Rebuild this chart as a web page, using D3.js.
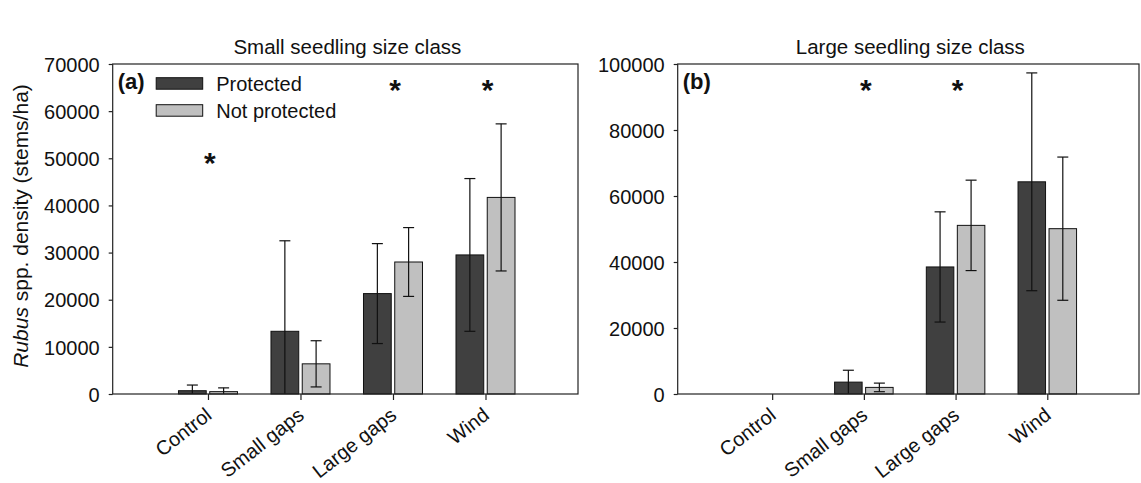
<!DOCTYPE html>
<html>
<head>
<meta charset="UTF-8">
<script src="https://d3js.org/d3.v7.min.js"></script>
<style>
body { margin: 0; background: #fff; }
text { font-family: "Liberation Sans", Arial, sans-serif; fill: #111; }
.yAxis path, .xAxis path { display: none; }
.yAxis line, .xAxis line { stroke: #222; stroke-width: 1.2; }
</style>
</head>
<body>
<script>
const categories = ["Control", "Small gaps", "Large gaps", "Wind"];
const seriesNames = ["Protected", "Not protected"];
const seriesFill = ["#404040", "#c0c0c0"];

// (a) small seedling size class
const smallProtected = [700, 13300, 21300, 29500];
const smallProtectedErr = [1200, 19200, 10600, 16200];
const smallNotProtected = [500, 6400, 28000, 41700];
const smallNotProtectedErr = [800, 4900, 7300, 15600];
const smallStars = [[0, 50300], [2, 65800], [3, 65800]];   // [category index, height]
const smallTicks = [0, 10000, 20000, 30000, 40000, 50000, 60000, 70000];

// (b) large seedling size class
const largeProtected = [0, 3600, 38500, 64300];
const largeProtectedErr = [0, 3600, 16700, 33000];
const largeNotProtected = [0, 2000, 51100, 50100];
const largeNotProtectedErr = [0, 1300, 13700, 21700];
const largeStars = [[1, 93900], [2, 93900]];
const largeTicks = [0, 20000, 40000, 60000, 80000, 100000];

const svg = d3.select("body").append("svg")
    .attr("width", 1141)
    .attr("height", 483);

function drawPanel(opt) {
    const w = opt.width, h = 330;
    const g = svg.append("g").attr("transform", `translate(${opt.left},64)`);
    const x = d3.scaleLinear().domain([-0.03, 5]).range([0, w]);
    const y = d3.scaleLinear().domain([0, opt.ticks[opt.ticks.length - 1]]).range([h, 0]);
    const bw = x(0.27) - x(-0.03);
    const gap = 3.5;

    // y axis
    const gY = g.append("g").classed("yAxis", true);
    d3.axisLeft(y).tickValues(opt.ticks).tickSize(4).tickPadding(9).tickFormat(d3.format("d"))(gY);
    gY.selectAll("text").attr("font-size", 20).attr("dy", "0.36em");

    // x axis
    const gX = g.append("g").classed("xAxis", true).attr("transform", `translate(0,${h})`);
    d3.axisBottom(x).tickValues([1, 2, 3, 4]).tickSize(6).tickFormat("")(gX);
    g.append("g").selectAll("text").data(categories).join("text")
        .attr("transform", (d, i) => `translate(${x(i + 1) + 5},${h + 23.5}) rotate(-38)`)
        .attr("text-anchor", "end")
        .attr("font-size", 20)
        .text(d => d);

    // bars
    const series = [
        { vals: opt.protectedVals, errs: opt.protectedErr, side: -1, fill: seriesFill[0] },
        { vals: opt.notProtectedVals, errs: opt.notProtectedErr, side: 1, fill: seriesFill[1] }
    ];
    series.forEach(s => {
        const bx = i => s.side < 0 ? x(i + 1) - gap / 2 - bw : x(i + 1) + gap / 2;
        const rows = s.vals.map((v, i) => ({ i, v, e: s.errs[i] })).filter(r => r.v > 0);
        g.append("g").selectAll("rect").data(rows).join("rect")
            .attr("x", r => bx(r.i))
            .attr("y", r => y(r.v))
            .attr("width", bw)
            .attr("height", r => h - y(r.v))
            .attr("fill", s.fill)
            .attr("stroke", "#111")
            .attr("stroke-width", 1);
        const eg = g.append("g").attr("stroke", "#111").attr("stroke-width", 1.2);
        rows.forEach(r => {
            const cx = bx(r.i) + bw / 2;
            const hi = r.v + r.e, lo = Math.max(0, r.v - r.e);
            eg.append("line").attr("x1", cx).attr("x2", cx).attr("y1", y(hi)).attr("y2", y(lo));
            eg.append("line").attr("x1", cx - 5.5).attr("x2", cx + 5.5).attr("y1", y(hi)).attr("y2", y(hi));
            if (r.v - r.e > 0) {
                eg.append("line").attr("x1", cx - 5.5).attr("x2", cx + 5.5).attr("y1", y(lo)).attr("y2", y(lo));
            }
        });
    });

    // significance stars
    g.append("g").selectAll("text").data(opt.stars).join("text")
        .attr("x", d => x(d[0] + 1) + 2)
        .attr("y", d => y(d[1]) + 16)
        .attr("text-anchor", "middle")
        .attr("font-size", 30)
        .attr("font-weight", "bold")
        .text("*");

    // frame
    g.append("rect")
        .attr("width", w).attr("height", h)
        .attr("fill", "none")
        .attr("stroke", "#222")
        .attr("stroke-width", 1.2);

    // panel letter
    g.append("text")
        .attr("x", 5).attr("y", 25)
        .attr("font-size", 22)
        .attr("font-weight", "bold")
        .text(opt.letter);

    // title above
    svg.append("text")
        .attr("x", opt.left + w / 2 + 2)
        .attr("y", 54)
        .attr("text-anchor", "middle")
        .attr("font-size", 20.5)
        .text(opt.title);

    return g;
}

const gA = drawPanel({
    left: 112.7, width: 465.3, ticks: smallTicks, letter: "(a)",
    title: "Small seedling size class",
    protectedVals: smallProtected, protectedErr: smallProtectedErr,
    notProtectedVals: smallNotProtected, notProtectedErr: smallNotProtectedErr,
    stars: smallStars
});

drawPanel({
    left: 677.7, width: 461.3, ticks: largeTicks, letter: "(b)",
    title: "Large seedling size class",
    protectedVals: largeProtected, protectedErr: largeProtectedErr,
    notProtectedVals: largeNotProtected, notProtectedErr: largeNotProtectedErr,
    stars: largeStars
});

// legend in panel (a)
const legend = gA.append("g").attr("transform", "translate(43.5,13.7)");
const item = legend.selectAll("g").data(seriesNames).join("g")
    .attr("transform", (d, i) => `translate(0,${i * 27})`);
item.append("rect")
    .attr("width", 46.5).attr("height", 11.5)
    .attr("fill", (d, i) => seriesFill[i])
    .attr("stroke", "#111");
item.append("text")
    .attr("x", 60).attr("y", 13)
    .attr("font-size", 20)
    .text(d => d);

// y axis title
const yTitle = svg.append("text")
    .attr("transform", "translate(28,226) rotate(-90)")
    .attr("text-anchor", "middle")
    .attr("font-size", 21);
yTitle.append("tspan").attr("font-style", "italic").text("Rubus");
yTitle.append("tspan").text(" spp. density (stems/ha)");
</script>
</body>
</html>
